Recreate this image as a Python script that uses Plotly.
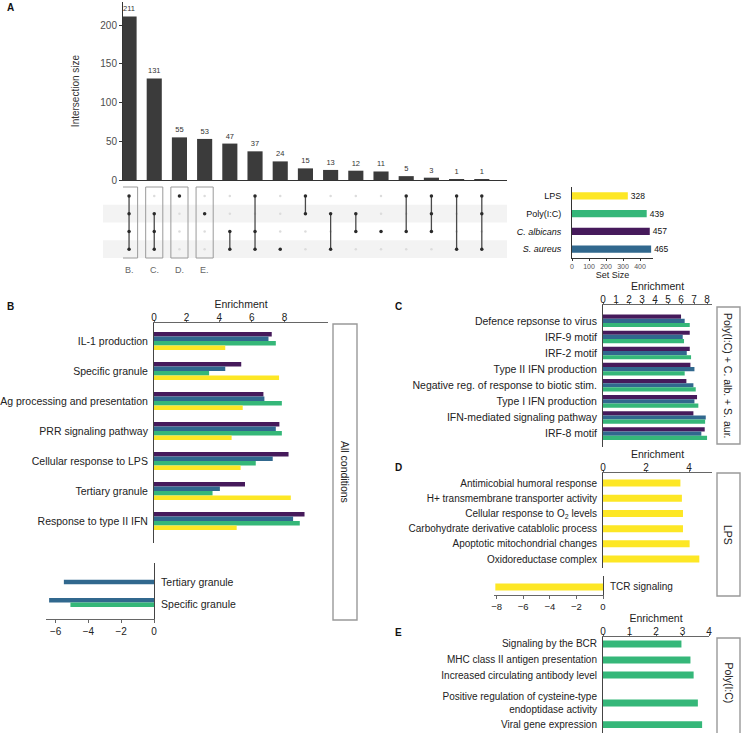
import plotly.graph_objects as go

W, H = 741, 733
FONT = "Liberation Sans, Arial, Helvetica, sans-serif"
PURPLE, BLUE, GREEN, YELLOW = "#461a5b", "#31688e", "#35b779", "#fde725"
BAR_A = "#3b3b3b"

# ---------------- Panel A data ----------------
inter_sizes = [211, 131, 55, 53, 47, 37, 24, 15, 13, 12, 11, 5, 3, 1, 1]
inter_sets = [
    ["LPS", "Poly(I:C)", "C. albicans", "S. aureus"],
    ["Poly(I:C)", "C. albicans", "S. aureus"],
    ["LPS"],
    ["Poly(I:C)"],
    ["C. albicans", "S. aureus"],
    ["LPS", "C. albicans", "S. aureus"],
    ["S. aureus"],
    ["LPS", "Poly(I:C)"],
    ["Poly(I:C)", "S. aureus"],
    ["Poly(I:C)", "C. albicans"],
    ["C. albicans"],
    ["LPS", "C. albicans"],
    ["LPS", "Poly(I:C)", "C. albicans"],
    ["LPS", "S. aureus"],
    ["LPS", "Poly(I:C)", "S. aureus"],
]
set_names = ["LPS", "Poly(I:C)", "C. albicans", "S. aureus"]
set_ticktext = ["LPS", "Poly(I:C)", "<i>C. albicans</i>", "<i>S. aureus</i>"]
set_sizes = [328, 439, 457, 465]
set_colors = [YELLOW, GREEN, PURPLE, BLUE]
boxed_labels = ["B.", "C.", "D.", "E."]

# ---------------- Panel B data ----------------
b_terms = ["IL-1 production", "Specific granule", "Ag processing and presentation",
           "PRR signaling pathway", "Cellular response to LPS", "Tertiary granule",
           "Response to type II IFN"]
b_calb = [7.22, 5.35, 6.71, 7.69, 8.25, 5.58, 9.23]
b_saur = [7.02, 4.37, 6.77, 7.47, 7.28, 4.04, 8.53]
b_poly = [7.47, 3.38, 7.84, 7.84, 6.24, 3.59, 8.94]
b_lps = [4.37, 7.67, 5.44, 4.76, 5.31, 8.39, 5.07]
b_neg_terms = ["Tertiary granule", "Specific granule"]
b_neg_saur = [-5.5, -6.4]
b_neg_poly = [None, -5.1]

# ---------------- Panel C data ----------------
c_terms = ["Defence repsonse to virus", "IRF-9 motif", "IRF-2 motif", "Type II IFN production",
           "Negative reg. of response to biotic stim.", "Type I IFN production",
           "IFN-mediated signaling pathway", "IRF-8 motif"]
c_calb = [6.00, 6.67, 6.67, 6.72, 6.41, 7.23, 6.95, 7.82]
c_saur = [6.28, 6.13, 6.44, 7.03, 6.95, 7.03, 7.90, 7.56]
c_poly = [6.67, 6.23, 6.77, 6.28, 7.13, 7.33, 7.85, 8.00]

# ---------------- Panel D data ----------------
d_terms = ["Antimicobial humoral response", "H+ transmembrane transporter activity",
           "Cellular response to O<sub>2</sub> levels", "Carbohydrate derivative catablolic process",
           "Apoptotic mitochondrial changes", "Oxidoreductase complex"]
d_lps = [3.60, 3.67, 3.72, 3.72, 4.03, 4.48]
d_neg_terms = ["TCR signaling"]
d_neg_lps = [-8.1]

# ---------------- Panel E data ----------------
e_terms = ["Signaling by the BCR", "MHC class II antigen presentation",
           "Increased circulating antibody level",
           "Positive regulation of cysteine-type<br>endoptidase activity",
           "Viral gene expression"]
e_poly = [2.96, 3.30, 3.42, 3.58, 3.74]

# ---------------- layout helpers ----------------
def xd(a, b):
    return [a / W, b / W]

def yd(top, bot):
    return [1 - bot / H, 1 - top / H]

def px(x):
    return x / W

def py(y):
    return 1 - y / H

def ax(**kw):
    base = dict(showgrid=False, zeroline=False, showline=False, ticks="",
                showticklabels=False, fixedrange=True, automargin=False)
    base.update(kw)
    return base

fig = go.Figure()

# ---- A: intersection bars
cols = list(range(len(inter_sizes)))
fig.add_trace(go.Bar(x=cols, y=inter_sizes, marker=dict(color=BAR_A, line=dict(width=0)),
                     width=0.6, text=inter_sizes, textposition="outside",
                     textfont=dict(size=7.5, color="#333"), constraintext="none",
                     cliponaxis=False, xaxis="x", yaxis="y", showlegend=False))

# ---- A: matrix
gx, gy = [], []
for i in cols:
    for s in set_names:
        gx.append(i)
        gy.append(s)
fig.add_trace(go.Scatter(x=gx, y=gy, mode="markers", marker=dict(size=2.5, color="#dcdcdc"),
                         xaxis="x2", yaxis="y2", showlegend=False, hoverinfo="skip"))
lx, ly, dx, dy = [], [], [], []
for i, members in zip(cols, inter_sets):
    idx = sorted(set_names.index(m) for m in members)
    if len(idx) > 1:
        lx += [i, i, None]
        ly += [set_names[idx[0]], set_names[idx[-1]], None]
    for m in members:
        dx.append(i)
        dy.append(m)
fig.add_trace(go.Scatter(x=lx, y=ly, mode="lines", line=dict(color="#4a4a4a", width=1.3),
                         xaxis="x2", yaxis="y2", showlegend=False, hoverinfo="skip"))
fig.add_trace(go.Scatter(x=dx, y=dy, mode="markers", marker=dict(size=3.5, color="#2a2a2a"),
                         xaxis="x2", yaxis="y2", showlegend=False))

# ---- A: set sizes
fig.add_trace(go.Bar(x=set_sizes, y=set_names, orientation="h", width=0.4,
                     marker=dict(color=set_colors, line=dict(width=0)),
                     text=set_sizes, textposition="outside", constraintext="none",
                     textfont=dict(size=8.5, color="#111"), cliponaxis=False,
                     xaxis="x3", yaxis="y3", showlegend=False))

# ---- B main
for vals, col, off in [(b_calb, PURPLE, -0.3), (b_saur, BLUE, -0.15),
                       (b_poly, GREEN, 0.0), (b_lps, YELLOW, 0.15)]:
    fig.add_trace(go.Bar(x=vals, y=b_terms, orientation="h", width=0.15, offset=off,
                         marker=dict(color=col, line=dict(width=0)),
                         xaxis="x4", yaxis="y4", showlegend=False))
# ---- B lower
fig.add_trace(go.Bar(x=b_neg_saur, y=b_neg_terms, orientation="h", width=0.2,
                     offset=[-0.1, -0.27], marker=dict(color=BLUE, line=dict(width=0)),
                     xaxis="x5", yaxis="y5", showlegend=False))
fig.add_trace(go.Bar(x=b_neg_poly, y=b_neg_terms, orientation="h", width=0.2,
                     offset=-0.07, marker=dict(color=GREEN, line=dict(width=0)),
                     xaxis="x5", yaxis="y5", showlegend=False))

# ---- C
for vals, col, off in [(c_calb, PURPLE, -0.4), (c_saur, BLUE, -0.14), (c_poly, GREEN, 0.12)]:
    fig.add_trace(go.Bar(x=vals, y=c_terms, orientation="h", width=0.26, offset=off,
                         marker=dict(color=col, line=dict(width=0)),
                         xaxis="x6", yaxis="y6", showlegend=False))

# ---- D
fig.add_trace(go.Bar(x=d_lps, y=d_terms, orientation="h", width=0.46,
                     marker=dict(color=YELLOW, line=dict(width=0)),
                     xaxis="x7", yaxis="y7", showlegend=False))
fig.add_trace(go.Bar(x=d_neg_lps, y=d_neg_terms, orientation="h", width=0.46,
                     marker=dict(color=YELLOW, line=dict(width=0)),
                     xaxis="x8", yaxis="y8", showlegend=False))

# ---- E
e_pos = [0, 1.03, 2, 3.8, 5.2]
fig.add_trace(go.Bar(x=e_poly, y=e_pos, orientation="h", width=0.45,
                     marker=dict(color=GREEN, line=dict(width=0)),
                     xaxis="x9", yaxis="y9", showlegend=False))

LINE = "#444"
lbl = dict(size=10.5, color="#222")
enr_title = dict(text="Enrichment", font=dict(size=10.5, color="#222"), standoff=1)
top_tick = dict(ticks="outside", ticklen=2, tickcolor="#666",
                tickfont=dict(size=10, color="#222"), ticklabelstandoff=-5)

layout = dict(
    width=W, height=H, margin=dict(l=0, r=0, t=0, b=0, pad=0, autoexpand=False),
    paper_bgcolor="white", plot_bgcolor="white", barmode="overlay",
    font=dict(family=FONT, color="#222"), showlegend=False,
    xaxis=ax(domain=xd(123, 507), range=[-0.24, 15.0], anchor="y",
             showline=True, linecolor="#333", linewidth=1),
    yaxis=ax(domain=yd(2, 180), range=[0, 229.7], anchor="x", showline=True,
             linecolor="#333", showticklabels=True, tickvals=[0, 50, 100, 150, 200],
             ticks="outside", ticklen=3, tickcolor="#333",
             tickfont=dict(size=10, color="#4d4d4d"),
             title=dict(text="Intersection size", font=dict(size=10, color="#333"), standoff=18)),
    xaxis2=ax(domain=xd(123, 507), range=[-0.24, 15.0], anchor="y2"),
    yaxis2=ax(domain=yd(187, 258), type="category", categoryarray=set_names,
              range=[3.5, -0.5], anchor="x2"),
    xaxis3=ax(domain=xd(572, 653), range=[0, 476], anchor="y3", showline=True,
              linecolor="#333", showticklabels=True, tickvals=[0, 100, 200, 300, 400],
              ticks="outside", ticklen=2, tickcolor="#333",
              tickfont=dict(size=7, color="#555"),
              title=dict(text="Set Size", font=dict(size=9, color="#222"), standoff=2)),
    yaxis3=ax(domain=yd(187, 258), type="category", categoryarray=set_names,
              range=[3.5, -0.5], anchor="x3", showline=True, linecolor="#333",
              showticklabels=True, tickvals=set_names, ticktext=set_ticktext,
              tickfont=dict(size=9, color="#111"), ticklabelstandoff=8),
    xaxis4=ax(domain=xd(154, 328), range=[0, 10.67], anchor="y4", side="top",
              showline=True, linecolor="#666", showticklabels=True, tickvals=[0, 2, 4, 6, 8],
              title=enr_title, **top_tick),
    yaxis4=ax(domain=yd(323, 543), type="category", categoryarray=b_terms,
              range=[6.73, -0.6], anchor="x4", showline=True, linecolor=LINE,
              showticklabels=True, tickfont=lbl, ticklabelstandoff=3),
    xaxis5=ax(domain=xd(46, 154), range=[-6.59, 0], anchor="y5", showline=True,
              linecolor="#666", showticklabels=True, tickvals=[-6, -4, -2, 0],
              ticks="outside", ticklen=3, tickcolor="#666", tickfont=dict(size=10, color="#222")),
    yaxis5=ax(domain=yd(563, 619), type="category", categoryarray=b_neg_terms,
              range=[1.68, -0.864], anchor="x5", side="right", showline=True, linecolor=LINE,
              showticklabels=True, tickfont=lbl, ticklabelstandoff=4),
    xaxis6=ax(domain=xd(603, 712), range=[0, 8.38], anchor="y6", side="top",
              showline=True, linecolor="#666", showticklabels=True, tickvals=list(range(9)),
              title=enr_title, **top_tick),
    yaxis6=ax(domain=yd(305, 447), type="category", categoryarray=c_terms,
              range=[7.82, -0.99], anchor="x6", showline=True, linecolor=LINE,
              showticklabels=True, tickfont=lbl, ticklabelstandoff=3),
    xaxis7=ax(domain=xd(603, 712), range=[0, 5.07], anchor="y7", side="top",
              showline=True, linecolor="#666", showticklabels=True, tickvals=[0, 2, 4],
              title=enr_title, **top_tick),
    yaxis7=ax(domain=yd(473, 568), type="category", categoryarray=d_terms,
              range=[5.59, -0.66], anchor="x7", showline=True, linecolor=LINE,
              showticklabels=True, tickfont=dict(size=10, color="#222"), ticklabelstandoff=3),
    xaxis8=ax(domain=xd(494, 603), range=[-8.2, 0], anchor="y8", showline=True,
              linecolor="#666", showticklabels=True, tickvals=[-8, -6, -4, -2, 0],
              ticks="outside", ticklen=3, tickcolor="#666", tickfont=dict(size=9.5, color="#222")),
    yaxis8=ax(domain=yd(576, 595), type="category", categoryarray=d_neg_terms,
              range=[0.53, -0.72], anchor="x8", side="right", showline=True, linecolor=LINE,
              showticklabels=True, tickfont=dict(size=10, color="#222"), ticklabelstandoff=4),
    xaxis9=ax(domain=xd(603, 709), range=[0, 4], anchor="y9", side="top",
              showline=True, linecolor="#666", showticklabels=True, tickvals=[0, 1, 2, 3, 4],
              title=enr_title, **top_tick),
    yaxis9=ax(domain=yd(637, 733), range=[5.74, -0.45], anchor="x9", showline=True,
              linecolor=LINE, showticklabels=True, tickvals=e_pos, ticktext=e_terms,
              tickfont=dict(size=10, color="#222"), ticklabelstandoff=3),
)

shapes = []
# matrix row shading
for r in (1, 3):
    shapes.append(dict(type="rect", xref="x2 domain", yref="y2", x0=-0.052, x1=1.0,
                       y0=r - 0.5, y1=r + 0.5, fillcolor="#f3f3f3", line=dict(width=0),
                       layer="below"))
# boxes around first four columns
for i, _ in enumerate(boxed_labels):
    shapes.append(dict(type="rect", xref="x2", yref="y2 domain", x0=i - 0.34, x1=i + 0.34,
                       y0=0, y1=1, line=dict(color="#9a9a9a", width=1), fillcolor="rgba(0,0,0,0)"))
# facet strips
strips = [((333, 324, 357, 620), "All conditions", 472),
          ((717, 307, 740, 444), "Poly(I:C) + C. alb. + S. aur.", 375.5),
          ((717, 473, 740, 596), "LPS", 534.5),
          ((717, 638, 740, 745), "Poly(I:C)", 683)]
annotations = []
for (x0, y0, x1, y1), txt, yc in strips:
    shapes.append(dict(type="rect", xref="paper", yref="paper", x0=px(x0), x1=px(x1),
                       y0=py(y1), y1=py(y0), line=dict(color="#999", width=1.4),
                       fillcolor="white", layer="below"))
    annotations.append(dict(xref="paper", yref="paper", x=px((x0 + x1) / 2), y=py(yc),
                            text=txt, textangle=90, showarrow=False,
                            font=dict(size=10.5, color="#222"), xanchor="center", yanchor="middle"))
for i, t in enumerate(boxed_labels):
    annotations.append(dict(xref="x2", yref="y2 domain", x=i, y=-0.17, text=t, showarrow=False,
                            font=dict(size=9, color="#666"), xanchor="center", yanchor="middle"))
for letter, x, y in [("A", 5, 8), ("B", 5, 307), ("C", 393, 307), ("D", 393, 467), ("E", 393, 632)]:
    annotations.append(dict(xref="paper", yref="paper", x=px(x), y=py(y), text="<b>%s</b>" % letter,
                            showarrow=False, font=dict(size=10, color="#111"),
                            xanchor="left", yanchor="middle"))

layout["shapes"] = shapes
layout["annotations"] = annotations
fig.update_layout(**layout)

page_css = (
    "var s='margin:0;padding:0;overflow:hidden;width:741px;height:733px;';"
    "document.documentElement.style.cssText=s;document.body.style.cssText=s;"
    "var g=document.getElementsByClassName('plotly-graph-div')[0];"
    "if(g){g.style.position='absolute';g.style.left='0px';g.style.top='0px';}"
)
fig.write_html("out.html", config={"displayModeBar": False}, post_script=page_css)
